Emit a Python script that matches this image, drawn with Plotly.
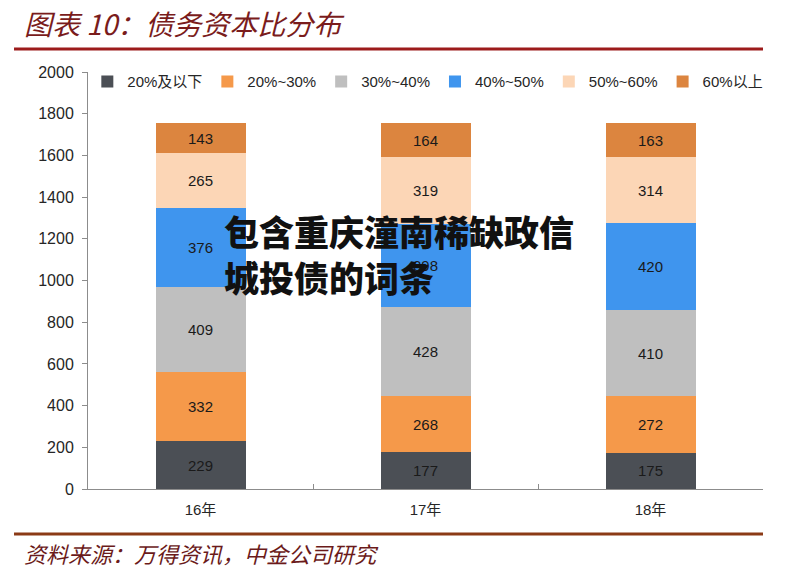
import plotly.graph_objects as go

categories = ["16年", "17年", "18年"]
series_names = ["20%及以下", "20%~30%", "30%~40%", "40%~50%", "50%~60%", "60%以上"]
s_le20 = [229, 177, 175]
s_20_30 = [332, 268, 272]
s_30_40 = [409, 428, 410]
s_40_50 = [376, 398, 420]
s_50_60 = [265, 319, 314]
s_gt60 = [143, 164, 163]
series_values = [s_le20, s_20_30, s_30_40, s_40_50, s_50_60, s_gt60]
colors = ["#4b4f55", "#f5994a", "#bfbfbf", "#3f95ee", "#fcd6b6", "#dc853f"]
y_ticks = [0, 200, 400, 600, 800, 1000, 1200, 1400, 1600, 1800, 2000]

title_text = "图表 10：债务资本比分布"
source_text = "资料来源：万得资讯，中金公司研究"
overlay_text = "包含重庆潼南稀缺政信<br>城投债的词条"

FONT = "Liberation Sans, Arial, Noto Sans CJK SC, sans-serif"
CJK = "Noto Sans CJK SC, sans-serif"

fig = go.Figure()
for name, vals, col in zip(series_names, series_values, colors):
    fig.add_trace(go.Bar(
        x=categories, y=vals, name=name,
        marker=dict(color=col, line=dict(width=0)),
        text=vals, texttemplate="%{text}", textposition="inside",
        insidetextanchor="middle", textangle=0,
        textfont=dict(family=FONT, size=15, color="#1a1a1a"),
        cliponaxis=False,
    ))

fig.update_layout(
    barmode="stack",
    bargap=0.6,
    width=791, height=573,
    margin=dict(l=88, r=28, t=72, b=84, autoexpand=False),
    paper_bgcolor="white", plot_bgcolor="white",
    font=dict(family=FONT, size=15, color="#262626"),
    legend=dict(
        orientation="h", x=-0.001, xanchor="left", y=1.016, yanchor="top",
        font=dict(family=FONT, size=15, color="#262626"),
        bgcolor="rgba(0,0,0,0)", itemwidth=30, traceorder="normal",
        itemclick=False,
    ),
    xaxis=dict(
        type="category", range=[-0.5, 2.5],
        showline=True, linecolor="#8c8c8c", linewidth=1,
        ticks="inside", tickson="boundaries", ticklen=5, tickcolor="#8c8c8c",
        showgrid=False, zeroline=False, ticklabelstandoff=7,
        tickfont=dict(family=FONT, size=15, color="#262626"),
    ),
    yaxis=dict(
        range=[0, 2000], tickvals=y_ticks,
        showline=True, linecolor="#8c8c8c", linewidth=1,
        ticks="outside", ticklen=5, tickcolor="#8c8c8c",
        showgrid=False, zeroline=False, ticklabelstandoff=5,
        tickfont=dict(family=FONT, size=16, color="#262626"),
    ),
    shapes=[
        dict(type="line", xref="paper", yref="paper", x0=-0.1096, x1=1.0,
             y0=1.0552, y1=1.0552, line=dict(color="#9c1b1b", width=3)),
        dict(type="line", xref="paper", yref="paper", x0=-0.1096, x1=1.0,
             y0=-0.1079, y1=-0.1079, line=dict(color="#8b3a16", width=3)),
    ],
    annotations=[
        dict(text=title_text, xref="paper", yref="paper", x=-0.0978, y=1.118,
             xanchor="left", yanchor="middle", showarrow=False,
             font=dict(family=CJK, size=28, color="#7a1c1c", style="italic")),
        dict(text=source_text, xref="paper", yref="paper", x=-0.0978, y=-0.1535,
             xanchor="left", yanchor="middle", showarrow=False,
             font=dict(family=CJK, size=22, color="#6b1a1a", style="italic")),
        dict(text=overlay_text, xref="paper", yref="paper", x=0.198, y=0.565,
             xanchor="left", yanchor="middle", align="left", showarrow=False,
             font=dict(family=CJK, size=35, color="#111111", weight=900)),
    ],
)

fig.write_html("out.html")
